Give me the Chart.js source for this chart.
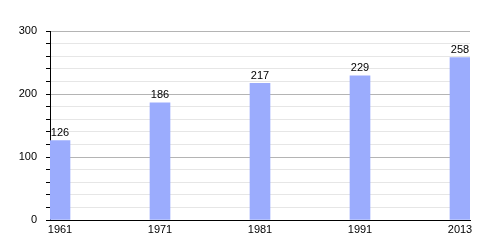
<!DOCTYPE html>
<html>
<head>
<meta charset="utf-8">
<script src="https://cdn.jsdelivr.net/npm/chart.js@4/dist/chart.umd.min.js"></script>
<style>
  html, body { margin: 0; padding: 0; background: #fff; }
  #wrap { width: 500px; height: 250px; }
</style>
</head>
<body>
<div id="wrap"><canvas id="popChart" width="500" height="250"></canvas></div>
<script>
const YEARS = ['1961', '1971', '1981', '1991', '2013'];
const POPULATION = [126, 186, 217, 229, 258];
const Y_MAX = 300;

// value labels above each bar
const valueLabels = {
    id: 'valueLabels',
    afterDatasetsDraw(chart) {
        const ctx = chart.ctx;
        const meta = chart.getDatasetMeta(0);
        ctx.save();
        ctx.font = '11px "Liberation Sans", Arial, sans-serif';
        ctx.fillStyle = '#000';
        ctx.textAlign = 'center';
        ctx.textBaseline = 'bottom';
        meta.data.forEach((bar, i) => {
            ctx.fillText(String(POPULATION[i]), bar.x, bar.y - 2);
        });
        ctx.restore();
    }
};

Chart.defaults.font.family = '"Liberation Sans", Arial, sans-serif';
Chart.defaults.font.size = 11;
Chart.defaults.color = '#000';

new Chart(document.getElementById('popChart').getContext('2d'), {
    type: 'bar',
    data: {
        datasets: [{
            data: POPULATION.map((v, i) => ({ x: i, y: v })),
            backgroundColor: '#9bacfd',
            borderWidth: 0,
            barThickness: 20
        }]
    },
    options: {
        responsive: false,
        animation: false,
        layout: { padding: { top: 31, right: 30, left: 0, bottom: 0 } },
        plugins: { legend: { display: false }, tooltip: { enabled: false } },
        scales: {
            x: {
                type: 'linear',
                offset: false,
                min: -0.1,
                max: YEARS.length - 0.9,
                afterBuildTicks: (scale) => {
                    scale.ticks = YEARS.map((y, i) => ({ value: i }));
                },
                afterFit: (scale) => { scale.height = 30; },
                grid: { display: false, drawTicks: false, offset: false },
                border: { display: true, color: '#000', width: 1 },
                ticks: {
                    padding: 3,
                    maxRotation: 0,
                    autoSkip: false,
                    callback: (v) => YEARS[v]
                }
            },
            y: {
                min: 0,
                max: Y_MAX,
                afterFit: (scale) => { scale.width = 50; },
                border: { display: true, color: '#000', width: 1 },
                grid: {
                    color: (c) => c.tick && c.tick.value % 100 === 0 ? '#b4b4b4' : '#e6e6e6',
                    tickColor: '#000',
                    tickLength: 4,
                    lineWidth: 1
                },
                ticks: {
                    stepSize: 20,
                    padding: 9,
                    autoSkip: false,
                    callback: (v) => (v % 100 === 0 ? String(v) : '')
                }
            }
        }
    },
    plugins: [valueLabels]
});
</script>
</body>
</html>
